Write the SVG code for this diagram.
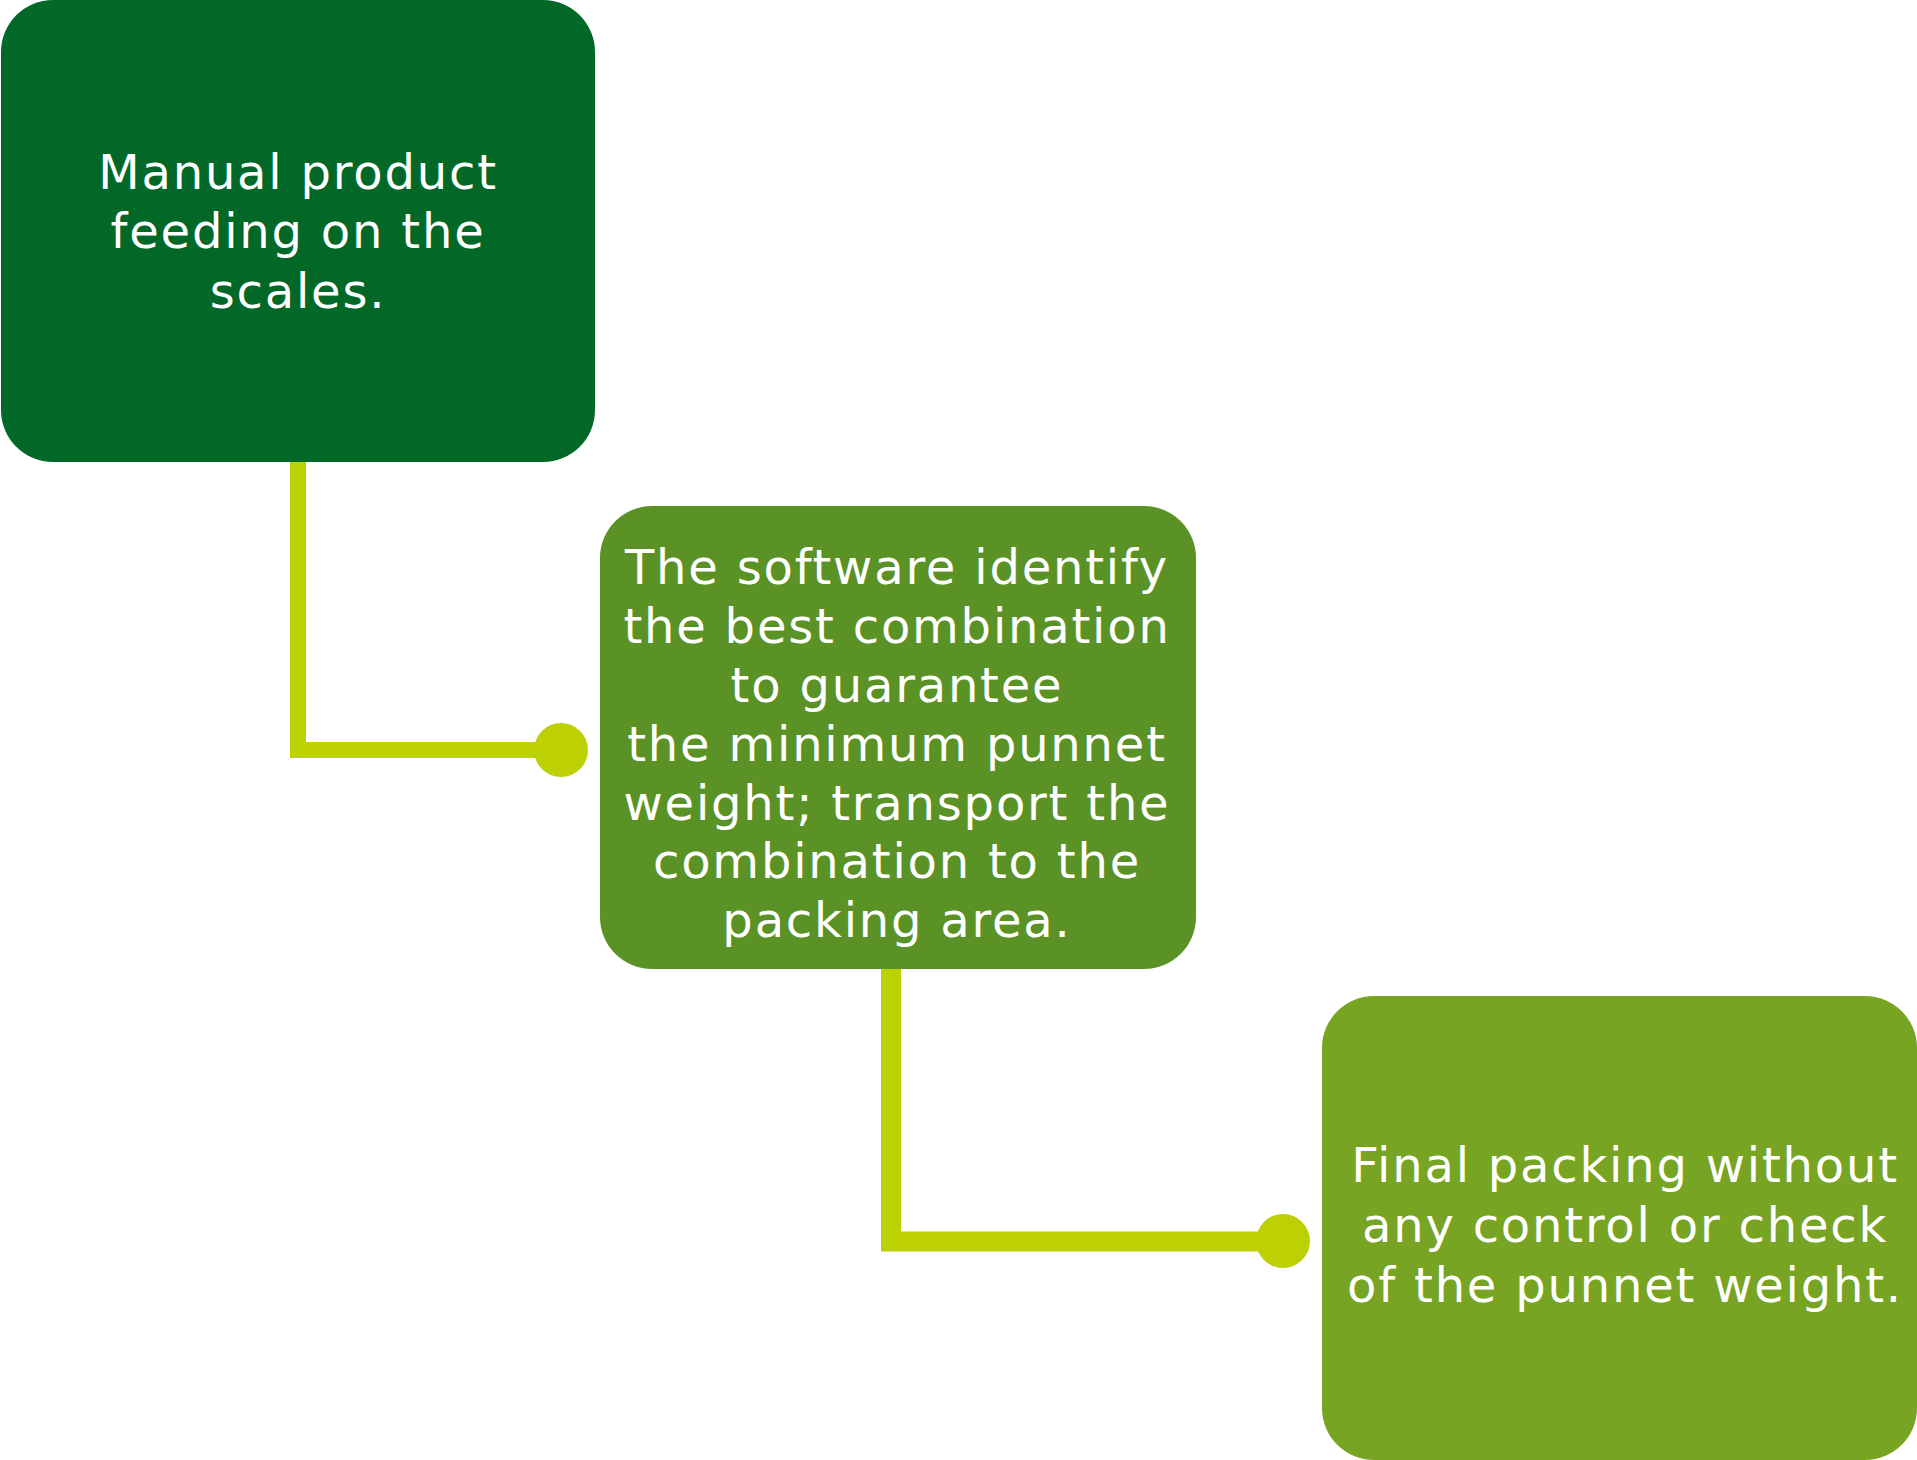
<svg xmlns="http://www.w3.org/2000/svg" width="1917" height="1460" viewBox="0 0 1917 1460">
<style>
.lbl{font-family:"DejaVu Sans","Liberation Sans",sans-serif;font-size:48px;fill:#ffffff;text-anchor:middle;letter-spacing:1.8px}
.conn{fill:none;stroke:#bdd004;stroke-linejoin:miter;stroke-linecap:butt}
.dot{fill:#bdd004}
</style>
<rect width="1917" height="1460" fill="#ffffff"/>
<g id="connectors">
<path class="conn" stroke-width="16" d="M298 462 V750 H545"/>
<circle class="dot" cx="561" cy="750" r="27"/>
<path class="conn" stroke-width="20" d="M891 969 V1241.5 H1265"/>
<circle class="dot" cx="1283" cy="1241" r="27"/>
</g>
<g id="node1">
<rect x="1" y="0" width="594" height="462" rx="52" ry="52" fill="#016828"/>
<text class="lbl" x="298" y="189">Manual product</text>
<text class="lbl" x="298" y="248">feeding on the </text>
<text class="lbl" x="298" y="308">scales.</text>
</g>
<g id="node2">
<rect x="600" y="506" width="596" height="463" rx="52" ry="52" fill="#5a9226"/>
<text class="lbl" x="897" y="584">The software identify</text>
<text class="lbl" x="897" y="643">the best combination</text>
<text class="lbl" x="897" y="702">to guarantee</text>
<text class="lbl" x="897" y="761">the minimum punnet</text>
<text class="lbl" x="897" y="820">weight; transport the</text>
<text class="lbl" x="897" y="878">combination to the</text>
<text class="lbl" x="897" y="937">packing area.</text>
</g>
<g id="node3">
<rect x="1322" y="996" width="595" height="464" rx="52" ry="52" fill="#77a422"/>
<text class="lbl" x="1625" y="1182">Final packing without</text>
<text class="lbl" x="1625" y="1242">any control or check</text>
<text class="lbl" x="1625" y="1302">of the punnet weight.</text>
</g>
</svg>
